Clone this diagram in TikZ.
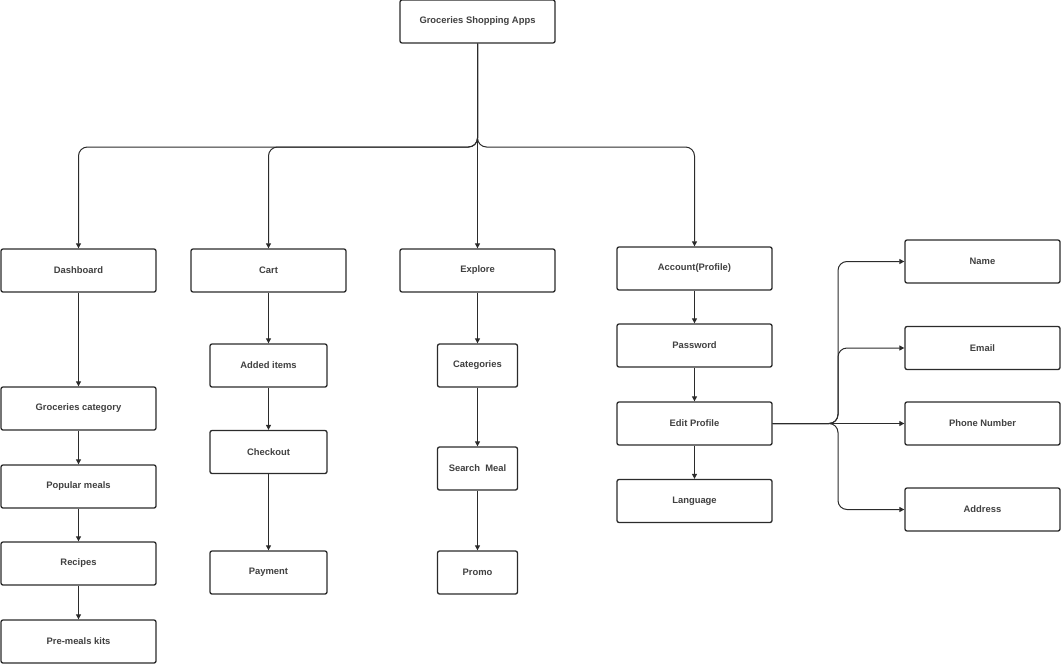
\documentclass[tikz,border=0pt]{standalone}
\usepackage{fontspec}
\setmainfont{Liberation Sans}
\usetikzlibrary{arrows.meta}
\definecolor{ink}{HTML}{2B2B2B}
\begin{document}
\begin{tikzpicture}[x=1pt,y=-1pt,
  box/.style={draw=ink,line width=1.3pt,rounded corners=2pt,fill=white,inner sep=0pt,font=\fontsize{9.4}{11}\selectfont\bfseries,text=ink!90},
  wbox/.style={box,minimum width=155pt,minimum height=43pt},
  mbox/.style={box,minimum width=117pt,minimum height=43pt},
  sbox/.style={box,minimum width=80pt,minimum height=43pt},
  conn/.style={draw=ink,line width=1pt,-{Triangle[length=5pt,width=5pt]}},
  bus/.style={conn,rounded corners=9pt}]
\useasboundingbox (0,0) rectangle (1061,664);
\node[wbox] (root) at (477.5,21.5) {Groceries Shopping Apps};
\node[wbox] (dash) at (78.5,270.5) {Dashboard};
\node[wbox] (cart) at (268.5,270.5) {Cart};
\node[wbox] (expl) at (477.5,270.5) {Explore};
\node[wbox] (acct) at (694.5,268.5) {Account(Profile)};
\node[wbox] (gcat) at (78.5,408.5) {Groceries category};
\node[wbox] (pop) at (78.5,486.5) {Popular meals};
\node[wbox] (rec) at (78.5,563.5) {Recipes};
\node[wbox] (kits) at (78.5,641.5) {Pre-meals kits};
\node[mbox] (added) at (268.5,365.5) {Added items};
\node[mbox] (check) at (268.5,452) {Checkout};
\node[mbox] (pay) at (268.5,572.5) {Payment};
\node[sbox] (cats) at (477.5,365.5) {Categories};
\node[sbox] (search) at (477.5,468.5) {Search\ \ Meal};
\node[sbox] (promo) at (477.5,572.5) {Promo};
\node[wbox] (pass) at (694.5,345.5) {Password};
\node[wbox] (edit) at (694.5,423.5) {Edit Profile};
\node[wbox] (lang) at (694.5,501) {Language};
\node[wbox] (name) at (982.5,261.5) {Name};
\node[wbox] (email) at (982.5,348) {Email};
\node[wbox] (phone) at (982.5,423.5) {Phone Number};
\node[wbox] (addr) at (982.5,509.5) {Address};
\coordinate (j) at (477.5,147);
\coordinate (k) at (838,423.5);
\draw[bus] (root.south) -- (j) -| (dash.north);
\draw[bus] (root.south) -- (j) -| (cart.north);
\draw[bus] (root.south) -- (j) -| (acct.north);
\draw[conn] (root.south) -- (expl.north);
\draw[conn] (dash.south) -- (gcat.north);
\draw[conn] (gcat.south) -- (pop.north);
\draw[conn] (pop.south) -- (rec.north);
\draw[conn] (rec.south) -- (kits.north);
\draw[conn] (cart.south) -- (added.north);
\draw[conn] (added.south) -- (check.north);
\draw[conn] (check.south) -- (pay.north);
\draw[conn] (expl.south) -- (cats.north);
\draw[conn] (cats.south) -- (search.north);
\draw[conn] (search.south) -- (promo.north);
\draw[conn] (acct.south) -- (pass.north);
\draw[conn] (pass.south) -- (edit.north);
\draw[conn] (edit.south) -- (lang.north);
\draw[bus] (edit.east) -- (k) |- (name.west);
\draw[bus] (edit.east) -- (k) |- (email.west);
\draw[conn] (edit.east) -- (phone.west);
\draw[bus] (edit.east) -- (k) |- (addr.west);
\end{tikzpicture}
\end{document}
